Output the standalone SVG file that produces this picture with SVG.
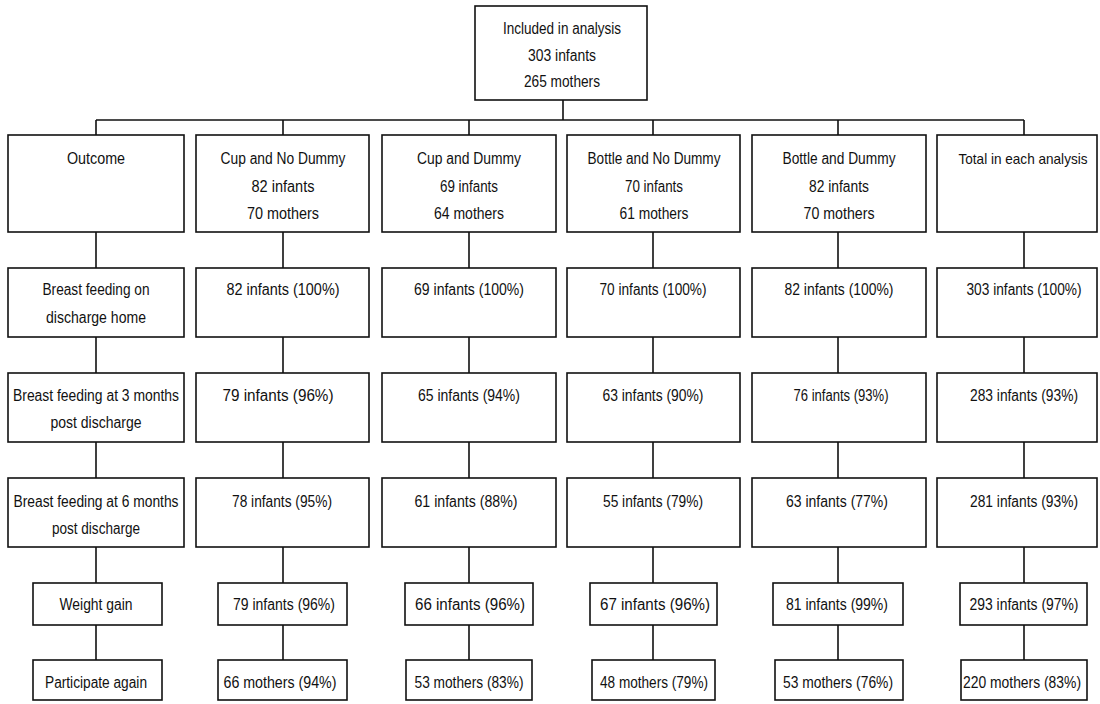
<svg xmlns="http://www.w3.org/2000/svg" width="1100" height="704" viewBox="0 0 1100 704">
<style>
.b{fill:#fff;stroke:#111;stroke-width:1.6}
.c{fill:none;stroke:#111;stroke-width:1.6}
text{font-family:"Liberation Sans",Arial,sans-serif;font-size:16px;fill:#111;text-anchor:middle}
.s{font-size:14.5px}
</style>
<rect width="1100" height="704" fill="#fff"/>
<g id="connectors" class="c">
<path d="M563 100V120M96 120H1024M96 120V135M283 120V135M469 120V135M653 120V135M838 120V135M1024 120V135"/>
<path d="M96 232V268M283 232V268M469 232V268M653 232V268M838 232V268M1024 232V268"/>
<path d="M96 337V373M283 337V373M469 337V373M653 337V373M838 337V373M1024 337V373"/>
<path d="M96 442V478M283 442V478M469 442V478M653 442V478M838 442V478M1024 442V478"/>
<path d="M96 547V583M283 547V583M469 547V583M653 547V583M838 547V583M1024 547V583"/>
<path d="M96 625V660M283 625V660M469 625V660M653 625V660M838 625V660M1024 625V660"/>
</g>
<g id="top"><rect class="b" x="475" y="6" width="172" height="94"/>
<text x="562" y="34" textLength="118" lengthAdjust="spacingAndGlyphs">Included in analysis</text>
<text x="562" y="61" textLength="68" lengthAdjust="spacingAndGlyphs">303 infants</text>
<text x="562" y="87" textLength="76" lengthAdjust="spacingAndGlyphs">265 mothers</text></g>

<g id="h-outcome"><rect class="b" x="8" y="135" width="176" height="97"/>
<text x="96" y="164" textLength="58" lengthAdjust="spacingAndGlyphs">Outcome</text></g>
<g id="h-cupnodummy"><rect class="b" x="196" y="135" width="173" height="97"/>
<text x="283" y="164" textLength="125" lengthAdjust="spacingAndGlyphs">Cup and No Dummy</text>
<text x="283" y="192" textLength="63" lengthAdjust="spacingAndGlyphs">82 infants</text>
<text x="283" y="219" textLength="72" lengthAdjust="spacingAndGlyphs">70 mothers</text></g>
<g id="h-cupdummy"><rect class="b" x="382" y="135" width="174" height="97"/>
<text x="469" y="164" textLength="104" lengthAdjust="spacingAndGlyphs">Cup and Dummy</text>
<text x="469" y="192" textLength="58" lengthAdjust="spacingAndGlyphs">69 infants</text>
<text x="469" y="219" textLength="70" lengthAdjust="spacingAndGlyphs">64 mothers</text></g>
<g id="h-bottlenodummy"><rect class="b" x="567" y="135" width="173" height="97"/>
<text x="654" y="164" textLength="133" lengthAdjust="spacingAndGlyphs">Bottle and No Dummy</text>
<text x="654" y="192" textLength="58" lengthAdjust="spacingAndGlyphs">70 infants</text>
<text x="654" y="219" textLength="69" lengthAdjust="spacingAndGlyphs">61 mothers</text></g>
<g id="h-bottledummy"><rect class="b" x="752" y="135" width="174" height="97"/>
<text x="839" y="164" textLength="113" lengthAdjust="spacingAndGlyphs">Bottle and Dummy</text>
<text x="839" y="192" textLength="60" lengthAdjust="spacingAndGlyphs">82 infants</text>
<text x="839" y="219" textLength="71" lengthAdjust="spacingAndGlyphs">70 mothers</text></g>
<g id="h-total"><rect class="b" x="937" y="135" width="160" height="97"/>
<text class="s" x="1023" y="164" textLength="129" lengthAdjust="spacingAndGlyphs">Total in each analysis</text></g>

<g id="r1-outcome"><rect class="b" x="8" y="268" width="176" height="69"/>
<text x="96" y="295" textLength="107" lengthAdjust="spacingAndGlyphs">Breast feeding on</text>
<text x="96" y="323" textLength="100" lengthAdjust="spacingAndGlyphs">discharge home</text></g>
<g id="r1-c1"><rect class="b" x="196" y="268" width="173" height="69"/>
<text x="283" y="295" textLength="113" lengthAdjust="spacingAndGlyphs">82 infants (100%)</text></g>
<g id="r1-c2"><rect class="b" x="382" y="268" width="174" height="69"/>
<text x="469" y="295" textLength="110" lengthAdjust="spacingAndGlyphs">69 infants (100%)</text></g>
<g id="r1-c3"><rect class="b" x="567" y="268" width="173" height="69"/>
<text x="653" y="295" textLength="107" lengthAdjust="spacingAndGlyphs">70 infants (100%)</text></g>
<g id="r1-c4"><rect class="b" x="752" y="268" width="174" height="69"/>
<text x="839" y="295" textLength="109" lengthAdjust="spacingAndGlyphs">82 infants (100%)</text></g>
<g id="r1-c5"><rect class="b" x="937" y="268" width="160" height="69"/>
<text x="1024" y="295" textLength="115" lengthAdjust="spacingAndGlyphs">303 infants (100%)</text></g>

<g id="r2-outcome"><rect class="b" x="8" y="373" width="176" height="69"/>
<text x="96" y="401" textLength="166" lengthAdjust="spacingAndGlyphs">Breast feeding at 3 months</text>
<text x="96" y="428" textLength="91" lengthAdjust="spacingAndGlyphs">post discharge</text></g>
<g id="r2-c1"><rect class="b" x="196" y="373" width="173" height="69"/>
<text x="278" y="401" textLength="111" lengthAdjust="spacingAndGlyphs">79 infants (96%)</text></g>
<g id="r2-c2"><rect class="b" x="382" y="373" width="174" height="69"/>
<text x="469" y="401" textLength="102" lengthAdjust="spacingAndGlyphs">65 infants (94%)</text></g>
<g id="r2-c3"><rect class="b" x="567" y="373" width="173" height="69"/>
<text x="653" y="401" textLength="101" lengthAdjust="spacingAndGlyphs">63 infants (90%)</text></g>
<g id="r2-c4"><rect class="b" x="752" y="373" width="174" height="69"/>
<text x="841" y="401" textLength="95" lengthAdjust="spacingAndGlyphs">76 infants (93%)</text></g>
<g id="r2-c5"><rect class="b" x="937" y="373" width="160" height="69"/>
<text x="1024" y="401" textLength="108" lengthAdjust="spacingAndGlyphs">283 infants (93%)</text></g>

<g id="r3-outcome"><rect class="b" x="8" y="478" width="176" height="69"/>
<text x="96" y="507" textLength="165" lengthAdjust="spacingAndGlyphs">Breast feeding at 6 months</text>
<text x="96" y="534" textLength="88" lengthAdjust="spacingAndGlyphs">post discharge</text></g>
<g id="r3-c1"><rect class="b" x="196" y="478" width="173" height="69"/>
<text x="282" y="507" textLength="100" lengthAdjust="spacingAndGlyphs">78 infants (95%)</text></g>
<g id="r3-c2"><rect class="b" x="382" y="478" width="174" height="69"/>
<text x="466" y="507" textLength="103" lengthAdjust="spacingAndGlyphs">61 infants (88%)</text></g>
<g id="r3-c3"><rect class="b" x="567" y="478" width="173" height="69"/>
<text x="653" y="507" textLength="100" lengthAdjust="spacingAndGlyphs">55 infants (79%)</text></g>
<g id="r3-c4"><rect class="b" x="752" y="478" width="174" height="69"/>
<text x="837" y="507" textLength="102" lengthAdjust="spacingAndGlyphs">63 infants (77%)</text></g>
<g id="r3-c5"><rect class="b" x="937" y="478" width="160" height="69"/>
<text x="1024" y="507" textLength="108" lengthAdjust="spacingAndGlyphs">281 infants (93%)</text></g>

<g id="r4-outcome"><rect class="b" x="33" y="583" width="129" height="42"/>
<text x="96" y="610" textLength="73" lengthAdjust="spacingAndGlyphs">Weight gain</text></g>
<g id="r4-c1"><rect class="b" x="218" y="583" width="129" height="42"/>
<text x="284" y="610" textLength="102" lengthAdjust="spacingAndGlyphs">79 infants (96%)</text></g>
<g id="r4-c2"><rect class="b" x="405" y="583" width="128" height="42"/>
<text x="470" y="610" textLength="110" lengthAdjust="spacingAndGlyphs">66 infants  (96%)</text></g>
<g id="r4-c3"><rect class="b" x="590" y="583" width="127" height="42"/>
<text x="655" y="610" textLength="110" lengthAdjust="spacingAndGlyphs">67 infants (96%)</text></g>
<g id="r4-c4"><rect class="b" x="773" y="583" width="130" height="42"/>
<text x="837" y="610" textLength="102" lengthAdjust="spacingAndGlyphs">81 infants (99%)</text></g>
<g id="r4-c5"><rect class="b" x="960" y="583" width="127" height="42"/>
<text x="1024" y="610" textLength="109" lengthAdjust="spacingAndGlyphs">293 infants (97%)</text></g>

<g id="r5-outcome"><rect class="b" x="33" y="660" width="129" height="40"/>
<text x="96" y="688" textLength="102" lengthAdjust="spacingAndGlyphs">Participate again</text></g>
<g id="r5-c1"><rect class="b" x="218" y="660" width="129" height="40"/>
<text x="280" y="688" textLength="113" lengthAdjust="spacingAndGlyphs">66 mothers (94%)</text></g>
<g id="r5-c2"><rect class="b" x="406" y="660" width="126" height="40"/>
<text x="469" y="688" textLength="109" lengthAdjust="spacingAndGlyphs">53 mothers (83%)</text></g>
<g id="r5-c3"><rect class="b" x="592" y="660" width="123" height="40"/>
<text x="654" y="688" textLength="108" lengthAdjust="spacingAndGlyphs">48 mothers (79%)</text></g>
<g id="r5-c4"><rect class="b" x="775" y="660" width="128" height="40"/>
<text x="838" y="688" textLength="110" lengthAdjust="spacingAndGlyphs">53 mothers (76%)</text></g>
<g id="r5-c5"><rect class="b" x="961" y="660" width="126" height="40"/>
<text x="1022" y="688" textLength="118" lengthAdjust="spacingAndGlyphs">220 mothers (83%)</text></g>
</svg>
